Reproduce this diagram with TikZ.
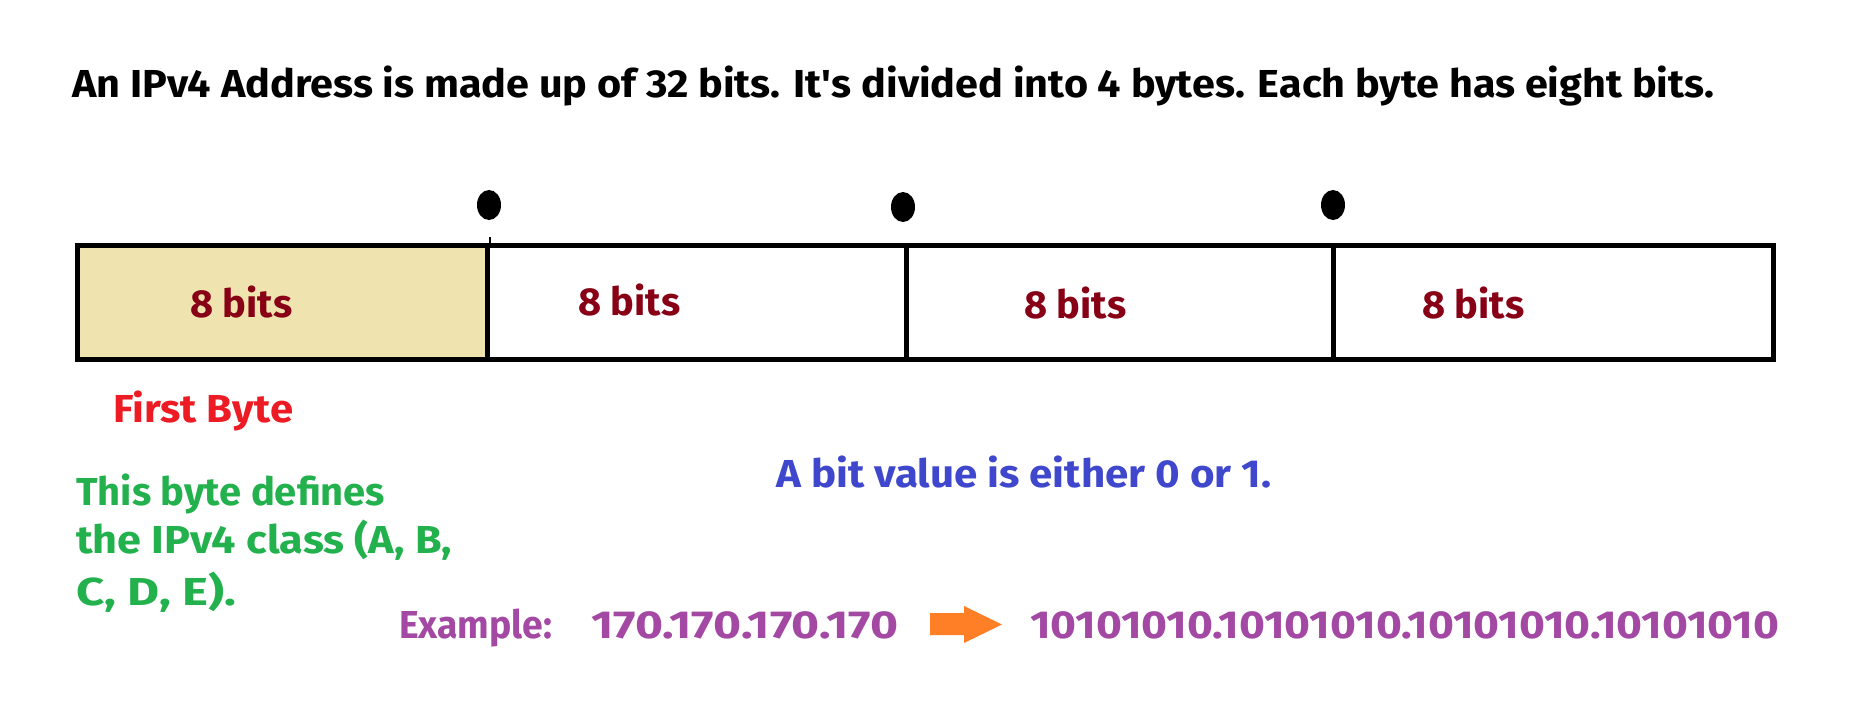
\documentclass[tikz,border=0pt]{standalone}
\usepackage{fontspec}
\setmainfont{Fira Sans}
\usetikzlibrary{shapes.geometric}
\definecolor{bitred}{RGB}{136,0,21}
\definecolor{firstred}{RGB}{237,28,36}
\definecolor{clsgreen}{RGB}{34,177,76}
\definecolor{bitblue}{RGB}{63,72,204}
\definecolor{expurple}{RGB}{163,73,164}
\definecolor{arrorange}{RGB}{255,127,39}
\definecolor{beige}{RGB}{239,228,176}
\newcommand{\fitw}[2]{\resizebox{#1pt}{\height}{#2}}
\begin{document}
\begin{tikzpicture}[x=1pt,y=-1pt,
  txt/.style={anchor=base west, inner sep=0pt, font=\fontsize{39}{47}\selectfont\bfseries},
  cell/.style={draw, line width=5pt, rectangle, minimum height=114pt, inner sep=0pt},
  dotmark/.style={ellipse, fill=black, minimum width=24pt, minimum height=30pt, inner sep=0pt}]
\fill[white] (0,0) rectangle (1871,720);
\useasboundingbox (0,0) rectangle (1871,720);

% title
\node[txt] (title) at (72,97) {\fitw{1642}{An IPv4 Address is made up of 32 bits. It\textquotesingle s divided into 4 bytes. Each byte has eight bits.}};

% cells
\node[cell, fill=beige, minimum width=410pt] (c1) at (282,302.5) {};
\node[cell, minimum width=419pt] (c2) at (696.5,302.5) {};
\node[cell, minimum width=427pt] (c3) at (1119.5,302.5) {};
\node[cell, minimum width=440pt] (c4) at (1553,302.5) {};
\draw[line width=2pt] (c1.north east) -- ++(0,-6);

% dots
\node[dotmark] (d1) at (489,205) {};
\node[dotmark] (d2) at (903,207) {};
\node[dotmark] (d3) at (1333,205) {};

% 8 bits labels
\node[txt, text=bitred] (b1) at (190,317) {\fitw{102}{8 bits}};
\node[txt, text=bitred] (b2) at (578,315) {\fitw{102}{8 bits}};
\node[txt, text=bitred] (b3) at (1024,318) {\fitw{102}{8 bits}};
\node[txt, text=bitred] (b4) at (1422,318) {\fitw{102}{8 bits}};

% first byte
\node[txt, text=firstred] (first) at (113,422) {\fitw{180}{First Byte}};

% green
\node[txt, text=clsgreen] (g1) at (76,505) {\fitw{309}{This byte defines}};
\node[txt, text=clsgreen] (g2) at (76,553) {\fitw{376}{the IPv4 class (A, B,}};
\node[txt, text=clsgreen] (g3) at (76,605) {\fitw{160}{C, D, E).}};

% blue
\node[txt, text=bitblue] (blue) at (776,487) {\fitw{495}{A bit value is either 0 or 1.}};

% example
\node[txt, text=expurple] (ex) at (399,638) {\fitw{153}{Example:}};
\node[txt, text=expurple] (dec) at (591,638) {\fitw{307}{170.170.170.170}};
\node[txt, text=expurple] (bin) at (1030,638) {\fitw{749}{10101010.10101010.10101010.10101010}};

% arrow
\fill[arrorange] (930,613) -- (964,613) -- (964,606) -- (1002,624.5) -- (964,643) -- (964,635) -- (930,635) -- cycle;
\end{tikzpicture}
\end{document}
